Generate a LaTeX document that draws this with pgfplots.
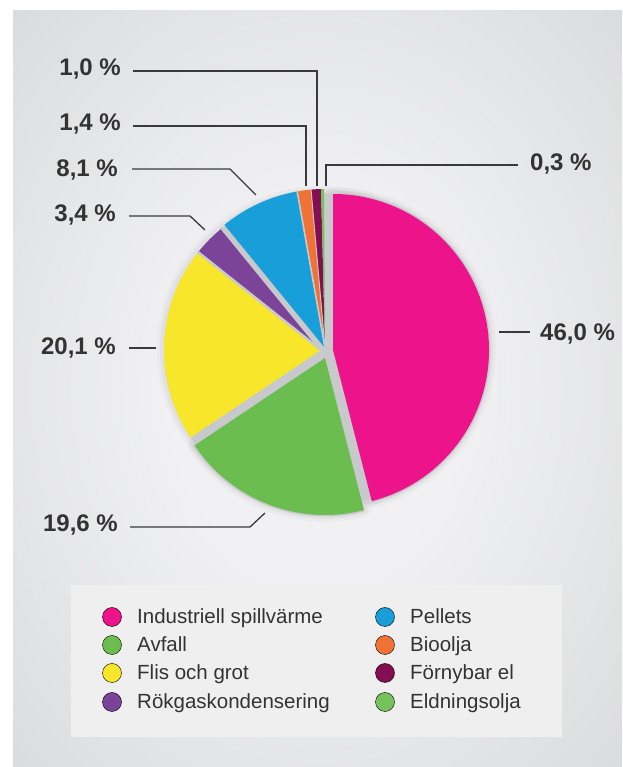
\documentclass[border=0pt]{standalone}
\usepackage{pgfplots}
\pgfplotsset{compat=1.18}
\usepackage{fontspec}
\setmainfont{Liberation Sans}
\definecolor{pinkc}{HTML}{EC138B}
\definecolor{greenc}{HTML}{6CBD4F}
\definecolor{yellowc}{HTML}{F7E62A}
\definecolor{purplec}{HTML}{7B4498}
\definecolor{bluec}{HTML}{189FD9}
\definecolor{orangec}{HTML}{F07234}
\definecolor{maroonc}{HTML}{850E52}
\definecolor{lgreenc}{HTML}{74C35C}
\definecolor{gapc}{HTML}{C8C9CD}
\definecolor{txtc}{HTML}{333333}
\definecolor{linec}{HTML}{3A3A3A}
\definecolor{legc}{HTML}{EFEFF0}
\definecolor{bgA}{HTML}{F1F1F3}
\definecolor{bgB}{HTML}{DEDFE1}
\definecolor{bgC}{HTML}{C9CACD}
\definecolor{bgD}{HTML}{B3B4B8}
\pgfdeclareradialshading{bgshade}{\pgfpoint{0bp}{0bp}}{color(0bp)=(bgA); color(12bp)=(bgA); color(32bp)=(bgB); color(50bp)=(bgC); color(71bp)=(bgD)}
\tikzset{lab/.style={inner sep=0pt, text=txtc, font=\fontsize{24}{28}\selectfont\bfseries},
  leg/.style={inner sep=0pt, anchor=base west, text=txtc, font=\fontsize{20.5}{24}\selectfont}}
% values (percent)
\def\vA{46.0}% Industriell spillvarme
\def\vB{19.6}% Avfall
\def\vC{20.1}% Flis och grot
\def\vD{3.4}% Rokgaskondensering
\def\vE{8.1}% Pellets
\def\vF{1.4}% Bioolja
\def\vG{1.0}% Fornybar el
\def\vH{0.3}% Eldningsolja
\pgfmathsetmacro\aA{90}
\pgfmathsetmacro\aB{\aA-3.6*\vA}
\pgfmathsetmacro\aC{\aB-3.6*\vB}
\pgfmathsetmacro\aD{\aC-3.6*\vC}
\pgfmathsetmacro\aE{\aD-3.6*\vD}
\pgfmathsetmacro\aF{\aE-3.6*\vE}
\pgfmathsetmacro\aG{\aF-3.6*\vF}
\pgfmathsetmacro\aH{\aG-3.6*\vG}
\pgfmathsetmacro\aI{\aH-3.6*\vH}
% #1 style, #2 cx, #3 cy, #4 r, #5 start, #6 end
\newcommand\slice[6]{%
  \path[#1] (axis cs:#2,#3) -- (axis cs:{#2+#4*cos(#5)},{#3+#4*sin(#5)}) arc[start angle=#5, end angle=#6, radius=#4pt] -- cycle;}
\newcommand\gapline[5]{% width, cx, cy, r, angle
  \draw[gapc, line width=#1] (axis cs:#2,#3) -- (axis cs:{#2+#4*cos(#5)},{#3+#4*sin(#5)});}
\begin{document}
\begin{tikzpicture}
\begin{axis}[
  x=1pt, y=1pt,
  xmin=0, xmax=622, ymin=0, ymax=767,
  enlargelimits=false,
  hide axis, clip=false,
  anchor=origin, at={(0,0)},
]
% background
\shade[shading=bgshade] (axis cs:13,0) rectangle (axis cs:622,756);
% halo
\draw[black, opacity=0.025, line width=14pt] (axis cs:321,417) circle[radius=157pt];
\draw[black, opacity=0.035, line width=8pt] (axis cs:321,417) circle[radius=157pt];
\slice{draw=black, draw opacity=0.025, line width=14pt, line join=round}{333}{417}{156}{\aA}{\aB}
\slice{draw=black, draw opacity=0.035, line width=8pt, line join=round}{333}{417}{156}{\aA}{\aB}
\slice{draw=black, draw opacity=0.025, line width=14pt, line join=round}{325}{409}{157}{\aB}{\aC}
\slice{draw=black, draw opacity=0.035, line width=8pt, line join=round}{325}{409}{157}{\aB}{\aC}
% gray base
\fill[gapc] (axis cs:321,417) circle[radius=157pt];
\slice{fill=gapc}{333}{417}{157.5}{\aA}{\aB}
\slice{fill=gapc}{325}{409}{158.5}{\aB}{\aC}
% slices
\slice{fill=pinkc}{333}{417}{156}{\aA}{\aB}
\slice{fill=greenc}{325}{409}{157}{\aB}{\aC}
\slice{fill=yellowc}{321}{417}{157}{\aC}{\aD}
\slice{fill=purplec}{321}{417}{157}{\aD}{\aE}
\slice{fill=bluec}{325}{419}{159}{\aE}{\aF}
\slice{fill=orangec}{325}{419}{159}{\aF}{\aG}
\slice{fill=maroonc}{325}{419}{159}{\aG}{\aH}
\slice{fill=lgreenc}{325}{419}{159}{\aH}{\aI}
% gaps between unexploded slices
\gapline{2.5pt}{321}{417}{158}{\aD}
\gapline{2.5pt}{321}{417}{158}{\aE}
\gapline{1.6pt}{325}{419}{160}{\aF}
\gapline{1pt}{325}{419}{160}{\aG}
% leader lines
\draw[linec, line width=1.3pt] (axis cs:133,696) -- (axis cs:317,696) -- (axis cs:317,581);
\draw[linec, line width=1.3pt] (axis cs:133,641) -- (axis cs:306,641) -- (axis cs:306,581);
\draw[linec, line width=1.3pt] (axis cs:132,598) -- (axis cs:230,598) -- (axis cs:256,572);
\draw[linec, line width=1.3pt] (axis cs:129,551) -- (axis cs:190,551) -- (axis cs:205,537);
\draw[linec, line width=1.3pt] (axis cs:129,419) -- (axis cs:156,419);
\draw[linec, line width=1.3pt] (axis cs:130,240) -- (axis cs:250,240) -- (axis cs:265,254);
\draw[linec, line width=1.3pt] (axis cs:499,435) -- (axis cs:530,435);
\draw[linec, line width=1.3pt] (axis cs:326,581) -- (axis cs:326,602) -- (axis cs:518,602);
% labels
\node[lab, anchor=base east] at (axis cs:121,691) {1,0 \%};
\node[lab, anchor=base east] at (axis cs:121,636) {1,4 \%};
\node[lab, anchor=base east] at (axis cs:118,590) {8,1 \%};
\node[lab, anchor=base east] at (axis cs:116,545) {3,4 \%};
\node[lab, anchor=base east] at (axis cs:116,412) {20,1 \%};
\node[lab, anchor=base east] at (axis cs:118,235) {19,6 \%};
\node[lab, anchor=base west] at (axis cs:540,426) {46,0 \%};
\node[lab, anchor=base west] at (axis cs:530,596) {0,3 \%};
% legend box
\fill[legc] (axis cs:71,30) rectangle (axis cs:562,182);
\addplot[only marks, mark=*, mark size=9.5pt, mark options={draw=none, fill=pinkc}] coordinates {(112,150)};
\addplot[only marks, mark=*, mark size=9.5pt, mark options={draw=none, fill=greenc}] coordinates {(112,122)};
\addplot[only marks, mark=*, mark size=9.5pt, mark options={draw=none, fill=yellowc}] coordinates {(112,94)};
\addplot[only marks, mark=*, mark size=9.5pt, mark options={draw=none, fill=purplec}] coordinates {(112,65)};
\addplot[only marks, mark=*, mark size=9.5pt, mark options={draw=none, fill=bluec}] coordinates {(385,150)};
\addplot[only marks, mark=*, mark size=9.5pt, mark options={draw=none, fill=orangec}] coordinates {(385,122)};
\addplot[only marks, mark=*, mark size=9.5pt, mark options={draw=none, fill=maroonc}] coordinates {(385,94)};
\addplot[only marks, mark=*, mark size=9.5pt, mark options={draw=none, fill=lgreenc}] coordinates {(385,65)};
\node[leg] at (axis cs:137,143) {Industriell spillvärme};
\node[leg] at (axis cs:137,115) {Avfall};
\node[leg] at (axis cs:137,87) {Flis och grot};
\node[leg] at (axis cs:137,58) {Rökgaskondensering};
\node[leg] at (axis cs:410,143) {Pellets};
\node[leg] at (axis cs:410,115) {Bioolja};
\node[leg] at (axis cs:410,87) {Förnybar el};
\node[leg] at (axis cs:410,58) {Eldningsolja};
\end{axis}
\pgfresetboundingbox
\path[use as bounding box] (0,0) rectangle (622pt,767pt);
\end{tikzpicture}
\end{document}
